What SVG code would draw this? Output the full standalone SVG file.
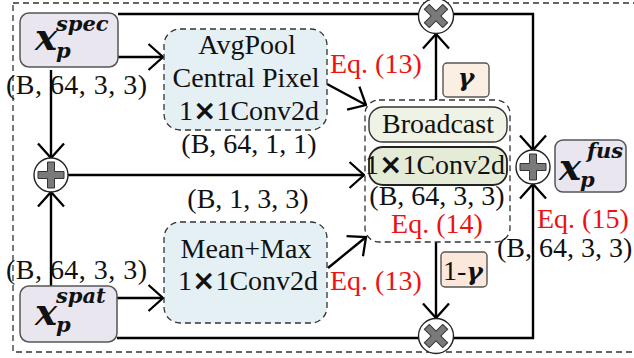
<svg xmlns="http://www.w3.org/2000/svg" width="634" height="358" viewBox="0 0 634 358">
<style>
.t{font-family:"Liberation Serif","Times New Roman",serif;font-size:28px;fill:#111}
.red{fill:#ee1111}
.c{text-anchor:middle}
.m{font-family:"DejaVu Serif",serif;font-weight:bold;font-style:italic;fill:#111}
.ln{fill:none;stroke:#000;stroke-width:2.4}
.dash{stroke:#333;stroke-width:1.3;stroke-dasharray:6 4}
.sym{fill:#7a7a7a;stroke:#333;stroke-width:1}
.circ{fill:#fff;stroke:#222;stroke-width:1.4}
.xx{font-family:"DejaVu Sans",sans-serif;font-weight:bold}
</style>
<defs>
<marker id="ah" markerUnits="userSpaceOnUse" viewBox="0 0 17 28" refX="15.5" refY="14" markerWidth="17" markerHeight="28" orient="auto">
<path d="M1,1 L15.5,14 L1,27" fill="none" stroke="#000" stroke-width="2.3"/>
</marker>
<g id="plus"><circle r="17" class="circ"/><path class="sym" d="M-3.5,-13 H3.5 V-3.5 H13 V3.5 H3.5 V13 H-3.5 V3.5 H-13 V-3.5 H-3.5 Z"/></g>
<g id="times"><circle r="17.5" class="circ"/><path class="sym" transform="rotate(45)" d="M-3.5,-13 H3.5 V-3.5 H13 V3.5 H3.5 V13 H-3.5 V3.5 H-13 V-3.5 H-3.5 Z"/></g>
</defs>
<rect x="13" y="3" width="640" height="349" fill="none" class="dash"/>

<g id="connectors">
<path class="ln" d="M118,57 H163" marker-end="url(#ah)"/>
<path class="ln" d="M118,14 H419"/>
<path class="ln" d="M453,14 H533 V150" marker-end="url(#ah)"/>
<path class="ln" d="M51,70 V158" marker-end="url(#ah)"/>
<path class="ln" d="M51,286 V192" marker-end="url(#ah)"/>
<path class="ln" d="M68,175 H364" marker-end="url(#ah)"/>
<path class="ln" d="M327,84 L366,105" marker-end="url(#ah)"/>
<path class="ln" d="M117,298 H163" marker-end="url(#ah)"/>
<path class="ln" d="M328,268 L366,237" marker-end="url(#ah)"/>
<path class="ln" d="M436,100 V34" marker-end="url(#ah)"/>
<path class="ln" d="M436,242 V318" marker-end="url(#ah)"/>
<path class="ln" d="M117,338 H419"/>
<path class="ln" d="M453,338 H533 V184" marker-end="url(#ah)"/>
</g>

<g id="spec">
<rect x="20" y="13" width="98" height="54" rx="9" fill="#e9e6f0" stroke="#555" stroke-width="1.5"/>
<text class="m" x="35" y="50" font-size="37">x</text>
<text class="m" x="56" y="31" font-size="21">spec</text>
<text class="m" x="56" y="58" font-size="21">p</text>
</g>
<g id="spat">
<rect x="20" y="286" width="97" height="56" rx="9" fill="#e9e6f0" stroke="#555" stroke-width="1.5"/>
<text class="m" x="35" y="325" font-size="37">x</text>
<text class="m" x="56" y="303" font-size="21">spat</text>
<text class="m" x="56" y="332" font-size="21">p</text>
</g>
<g id="fus">
<rect x="555" y="140" width="71" height="52" rx="8" fill="#e9e6f0" stroke="#555" stroke-width="1.5"/>
<text class="m" x="559" y="180" font-size="37">x</text>
<text class="m" x="587" y="158" font-size="21">fus</text>
<text class="m" x="580" y="187" font-size="21">p</text>
</g>

<g id="avgpool">
<rect x="164" y="29" width="163" height="101" rx="16" fill="#e4f0f4" class="dash"/>
<text class="t c" x="247" y="54">AvgPool</text>
<text class="t c" x="246" y="87">Central Pixel</text>
<text class="t c" x="249" y="120">1<tspan class="xx">×</tspan>1Conv2d</text>
</g>
<g id="meanmax">
<rect x="164" y="222" width="163" height="101" rx="16" fill="#e4f0f4" class="dash"/>
<text class="t c" x="246" y="258">Mean+Max</text>
<text class="t c" x="248" y="290">1<tspan class="xx">×</tspan>1Conv2d</text>
</g>
<g id="fusion-block">
<rect x="365" y="100" width="145" height="142" rx="14" fill="#fff" class="dash"/>
<rect x="369" y="107" width="138" height="35" rx="14" fill="#eef3e5" stroke="#333" stroke-width="1.4"/>
<text class="t c" x="438" y="133">Broadcast</text>
<rect x="369" y="147" width="138" height="38" rx="14" fill="#e4ecd8" stroke="#222" stroke-width="1.8"/>
<text class="t c" x="435" y="174">1<tspan class="xx">×</tspan>1Conv2d</text>
<text class="t c" x="437" y="205" font-size="26">(B, 64, 3, 3)</text>
<text class="t c red" x="437" y="233" font-size="26">Eq. (14)</text>
</g>
<g id="gamma">
<rect x="443" y="63" width="46" height="34" rx="4" fill="#fbefe4" stroke="#555" stroke-width="1.4"/>
<text class="m c" x="466" y="86" font-size="25">γ</text>
</g>
<g id="one-minus-gamma">
<rect x="441" y="252" width="46" height="35" rx="4" fill="#fbe8da" stroke="#555" stroke-width="1.4"/>
<text class="t" x="443" y="280">1-<tspan class="m" font-size="25">γ</tspan></text>
</g>
<g id="add-left"><use href="#plus" x="51" y="175"/></g>
<g id="add-right"><use href="#plus" x="533" y="167"/></g>
<g id="mul-top"><use href="#times" x="436" y="16"/></g>
<g id="mul-bottom"><use href="#times" x="436" y="336"/></g>

<g id="labels">
<text class="t" x="6" y="94" textLength="141">(B, 64, 3, 3)</text>
<text class="t" x="6" y="279" textLength="141">(B, 64, 3, 3)</text>
<text class="t c" x="249" y="153">(B, 64, 1, 1)</text>
<text class="t c" x="248" y="208">(B, 1, 3, 3)</text>
<text class="t red" x="330" y="73">Eq. (13)</text>
<text class="t red" x="330" y="290">Eq. (13)</text>
<text class="t red" x="537" y="228">Eq. (15)</text>
<text class="t" x="497" y="257">(B, 64, 3, 3)</text>
</g>
</svg>
